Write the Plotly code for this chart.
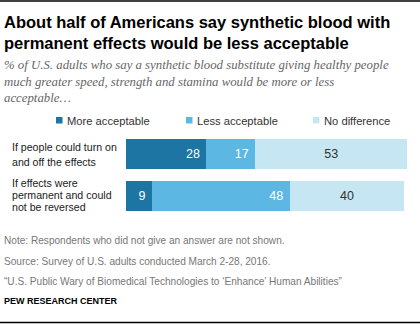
import plotly.graph_objects as go

# Survey results (% of U.S. adults)
categories = [
    "If people could turn on<br>and off the effects",
    "If effects were<br>permanent and could<br>not be reversed",
]
series_names = ["More acceptable", "Less acceptable", "No difference"]
more_acceptable = [28, 9]
less_acceptable = [17, 48]
no_difference = [53, 40]
series_values = [more_acceptable, less_acceptable, no_difference]

colors = ["#1c75a3", "#5cb8e2", "#c7e6f4"]
text_colors = ["white", "white", "#333333"]
anchors = ["end", "end", "middle"]

W, H = 420, 324
PL, PR, PT, PB = 126, 7, 133, 107
PW, PH = W - PL - PR, H - PT - PB


def px(x):
    return (x - PL) / PW


def py(y):
    return 1 - (y - PT) / PH


SANS = "Liberation Sans, Arial, sans-serif"
ids = [f"c{i}" for i in range(len(categories))]

fig = go.Figure()
for name, vals, col, tc, anc in zip(series_names, series_values, colors, text_colors, anchors):
    fig.add_trace(go.Bar(
        y=ids, x=vals, orientation="h", name=name,
        marker=dict(color=col, line=dict(width=0)),
        text=vals, texttemplate="%{text}\u00a0" if anc == "end" else "%{text}",
        textposition="inside", insidetextanchor=anc,
        textfont=dict(color=tc, size=12.5, family=SANS),
        constraintext="none", showlegend=False, hoverinfo="skip",
    ))

ann = []
# Title and subtitle
ann.append(dict(text="<b>About half of Americans say synthetic blood with<br>permanent effects would be less acceptable</b>",
                x=px(2), y=py(11), xanchor="left", yanchor="top", align="left",
                font=dict(size=16.5, color="#000000", family=SANS)))
ann.append(dict(text="<i>% of U.S. adults who say a synthetic blood substitute giving healthy people<br>"
                     "much greater speed, strength and stamina would be more or less<br>acceptable…</i>",
                x=px(2), y=py(56), xanchor="left", yanchor="top", align="left",
                font=dict(size=12.8, color="#666666", family="Liberation Serif, Georgia, serif")))

# Legend
legend_x = [56, 186, 313]
shapes = []
for name, col, lx in zip(series_names, colors, legend_x):
    shapes.append(dict(type="rect", xref="paper", yref="paper",
                       x0=px(lx), x1=px(lx + 6.5), y0=py(123.5), y1=py(117),
                       fillcolor=col, line=dict(width=0)))
    ann.append(dict(text=name, x=px(lx + 8.5), y=py(120.5), xanchor="left", yanchor="middle",
                    font=dict(size=11.2, color="#333333", family=SANS)))

# Category labels, left aligned, one annotation per line
label_line_y = [[146.5, 161.5], [182.5, 194.8, 207]]
for cat, ys in zip(categories, label_line_y):
    for line, ly in zip(cat.split("<br>"), ys):
        ann.append(dict(text=line, x=px(10), y=py(ly), xanchor="left", yanchor="middle",
                        font=dict(size=10.6, color="#1a1a1a", family=SANS)))

# Footnotes
notes = [
    ("Note: Respondents who did not give an answer are not shown.", 240),
    ("Source: Survey of U.S. adults conducted March 2-28, 2016.", 261),
    ("“U.S. Public Wary of Biomedical Technologies to ‘Enhance’ Human Abilities”", 281),
]
for t, ny in notes:
    ann.append(dict(text=t, x=px(2), y=py(ny), xanchor="left", yanchor="middle",
                    font=dict(size=10.1, color="#777777", family=SANS)))
ann.append(dict(text="<b>PEW RESEARCH CENTER</b>", x=px(2), y=py(300.5), xanchor="left", yanchor="middle",
                font=dict(size=9, color="#000000", family=SANS)))
for a in ann:
    a.update(xref="paper", yref="paper", showarrow=False)

# Top and bottom rules
shapes.append(dict(type="line", xref="paper", yref="paper", x0=px(0), x1=px(W), y0=py(1), y1=py(1),
                   line=dict(color="#000000", width=1.5)))
shapes.append(dict(type="line", xref="paper", yref="paper", x0=px(0), x1=px(W), y0=py(322.5), y1=py(322.5),
                   line=dict(color="#000000", width=1.5)))

fig.update_layout(
    width=W, height=H, barmode="stack", bargap=0.27,
    margin=dict(l=PL, r=PR, t=PT, b=PB, autoexpand=False),
    paper_bgcolor="white", plot_bgcolor="white",
    xaxis=dict(range=[0, 100], visible=False, fixedrange=True),
    yaxis=dict(autorange="reversed", visible=False, fixedrange=True),
    annotations=ann, shapes=shapes, uniformtext=dict(mode=False),
)
fig.write_html("out.html", config={"displayModeBar": False})
